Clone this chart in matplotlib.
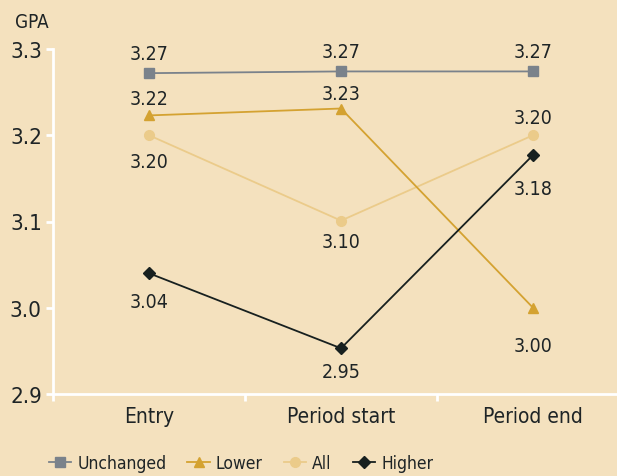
import matplotlib.pyplot as plt
from matplotlib.lines import Line2D

# data
stages = ['Entry', 'Period start', 'Period end']
unchanged = [3.272, 3.274, 3.274]
lower = [3.223, 3.231, 3.000]
all_students = [3.200, 3.101, 3.200]
higher = [3.040, 2.953, 3.177]

unchanged_lbl = ['3.27', '3.27', '3.27']
lower_lbl = ['3.22', '3.23', '3.00']
all_lbl = ['3.20', '3.10', '3.20']
higher_lbl = ['3.04', '2.95', '3.18']

bg = '#F4E1BE'
txt = '#1E2426'
plt.rcParams['font.family'] = ['DejaVu Sans']
plt.rcParams['font.stretch'] = 'condensed'

fig = plt.figure(figsize=(6.17, 4.77), dpi=100, facecolor=bg)
ax = fig.add_axes([53 / 617, 82 / 477, 576 / 617, 345 / 477])
ax.set_facecolor(bg)

x = range(len(stages))
ax.plot(x, all_students, color='#EBCB8A', marker='o', ms=7, lw=1.3, label='All', zorder=2)
ax.plot(x, unchanged, color='#7A828B', marker='s', ms=7.5, lw=1.3, label='Unchanged', zorder=3)
ax.plot(x, lower, color='#D4A231', marker='^', ms=7, lw=1.3, label='Lower', zorder=3)
ax.plot(x, higher, color='#17201F', marker='D', ms=6, lw=1.3, label='Higher', zorder=4)

# value labels: offset in points (positive = above)
def put(vals, lbls, offs):
    for i, (v, l, o) in enumerate(zip(vals, lbls, offs)):
        ax.annotate(l, (i, v), xytext=(0, o), textcoords='offset points',
                    ha='center', va='center', fontsize=14, color=txt)

put(unchanged, unchanged_lbl, [14, 14, 14])
put(lower, lower_lbl, [12, 11, -27])
put(all_students, all_lbl, [-19, -15, 13])
put(higher, higher_lbl, [-20, -17, -24])

ax.set_xlim(-0.5, 2.5)
ax.set_ylim(2.9, 3.3)
ax.set_yticks([2.9, 3.0, 3.1, 3.2, 3.3])
ax.set_yticklabels(['2.9', '3.0', '3.1', '3.2', '3.3'])
ax.set_xticks(list(x))
ax.set_xticklabels(stages)
ax.set_xticks([-0.5, 0.5, 1.5, 2.5], minor=True)
ax.tick_params(axis='x', which='major', length=0, labelsize=15, colors=txt, pad=9)
ax.tick_params(axis='x', which='minor', length=5, color='white', width=2)
ax.tick_params(axis='y', length=5, color='white', width=2, labelsize=16, labelcolor=txt, pad=3)

for s in ['top', 'right']:
    ax.spines[s].set_visible(False)
for s in ['left', 'bottom']:
    ax.spines[s].set_color('white')
    ax.spines[s].set_linewidth(2)

fig.text(15 / 617, 1 - 23 / 477, 'GPA', fontsize=13.5, color=txt, va='center', ha='left')

handles = [
    Line2D([], [], color='#7A828B', marker='s', ms=7.5, lw=1.3),
    Line2D([], [], color='#D4A231', marker='^', ms=7, lw=1.3),
    Line2D([], [], color='#EBCB8A', marker='o', ms=7, lw=1.3),
    Line2D([], [], color='#17201F', marker='D', ms=6, lw=1.3),
]
fig.legend(handles, ['Unchanged', 'Lower', 'All', 'Higher'], loc='center left',
           bbox_to_anchor=(33 / 617, 1 - 464 / 477), ncol=4, frameon=False,
           fontsize=12.5, handlelength=1.3, handletextpad=0.35, columnspacing=1.2,
           labelcolor=txt)

fig.savefig('out.png', dpi=100, facecolor=bg)
